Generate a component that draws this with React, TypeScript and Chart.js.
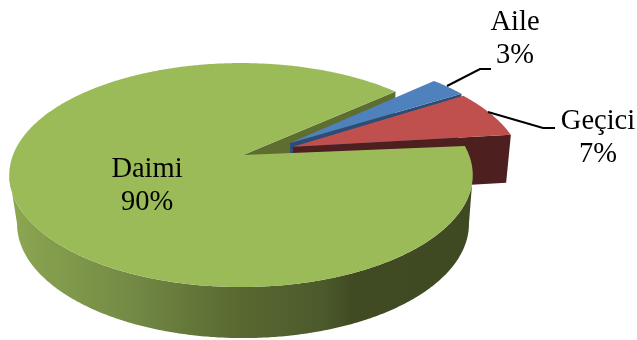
import React, { useEffect, useRef } from "react";
import { Chart, registerables } from "chart.js";

Chart.register(...registerables);

const categories = ["Aile", "Geçici", "Daimi"];
const shares = [3, 7, 90];
const sliceColors = ["#4F81BD", "#C0504D", "#9BBB59"];
const cutFaceColors = ["#2C4D78", "#4E1F1F", "#5D6E30"];

// Tilted-disc projection of the pie's plane, plus the thickness mapping.
const disc = { cx: 241, cy: 155, rx: 228, ry: 108.4, tilt: 0.179 };
// Per-slice pull-out in disc units, with a small angular spin in radians.
const pullOut = [
  { u: 0.219, v: -0.112, spin: -0.018 },
  { u: 0.231, v: -0.078, spin: -0.031 },
  { u: 0.009, v: 0, spin: 0 },
];
const wallGradient: [number, string][] = [
  [0, "#8CA651"],
  [0.25, "#748B45"],
  [0.5, "#586831"],
  [0.68, "#4C5A2C"],
  [0.74, "#404B23"],
  [1, "#3F4A23"],
];
const labelBoxes = [
  { x: 515, y: 30, leader: [[447, 86], [480, 69], [491, 69]] },
  { x: 598, y: 129, leader: [[488, 112], [543, 128], [555, 128]] },
  { x: 147, y: 177, leader: [] as number[][] },
];

type P = [number, number];

const project = (u: number, v: number): P => {
  const w = 1 - disc.tilt * v;
  return [disc.cx + (disc.rx * u) / w, disc.cy + (disc.ry * v) / w];
};
const lower = (p: P): P => [243 + (p[0] - 241) * 0.975, p[1] * 1.02 + 45.3];

const rim = (a0: number, a1: number, ox: number, oy: number): P[] => {
  const steps = Math.max(2, Math.ceil(Math.abs(a1 - a0) / (Math.PI / 360)));
  const pts: P[] = [];
  for (let i = 0; i <= steps; i++) {
    const a = a0 + ((a1 - a0) * i) / steps;
    pts.push(project(ox + Math.cos(a), oy + Math.sin(a)));
  }
  return pts;
};

const fillPoly = (ctx: CanvasRenderingContext2D, pts: P[], fill: string | CanvasGradient) => {
  ctx.beginPath();
  pts.forEach((p, i) => (i ? ctx.lineTo(p[0], p[1]) : ctx.moveTo(p[0], p[1])));
  ctx.closePath();
  ctx.fillStyle = fill;
  ctx.fill();
};

// Replaces the flat arcs with extruded slices, using the angles the doughnut controller computed.
const extrudedPie = {
  id: "extrudedPie",
  beforeDatasetsDraw(chart: any) {
    const ctx: CanvasRenderingContext2D = chart.ctx;
    const arcs = chart.getDatasetMeta(0).data;
    const geo = arcs.map((el: any, i: number) => {
      const { u, v, spin } = pullOut[i];
      return {
        ox: u,
        oy: v,
        start: el.startAngle + spin,
        end: el.endAngle + spin,
        apex: project(u, v),
        color: el.options.backgroundColor,
      };
    });
    ctx.save();

    // Cut face on the clockwise end of the large slice, seen through the gap.
    const big = geo[2];
    const bigEnd = project(Math.cos(big.end), Math.sin(big.end));
    fillPoly(ctx, [big.apex, bigEnd, lower(bigEnd), lower(big.apex)], cutFaceColors[2]);

    // Pulled-out slices: cut face at the end angle, then the top surface.
    [0, 1].forEach((i) => {
      const g = geo[i];
      const end = project(g.ox + Math.cos(g.end), g.oy + Math.sin(g.end));
      fillPoly(ctx, [g.apex, end, lower(end), lower(g.apex)], cutFaceColors[i]);
      fillPoly(ctx, [g.apex, ...rim(g.start, g.end, g.ox, g.oy)], g.color);
    });

    // Front wall of the large slice, between the two silhouette angles.
    const edge = Math.asin(disc.tilt);
    const front = rim(edge, Math.PI - edge, 0, 0);
    const grad = ctx.createLinearGradient(12, 0, 470, 0);
    wallGradient.forEach(([t, c]) => grad.addColorStop(t, c));
    fillPoly(ctx, [...front, ...front.map(lower).reverse()], grad);

    // Top surface of the large slice.
    fillPoly(ctx, [big.apex, ...rim(big.start, big.end, 0, 0)], big.color);

    // Callouts and slice labels.
    ctx.strokeStyle = "#000";
    ctx.lineWidth = 2;
    ctx.fillStyle = "#000";
    ctx.textAlign = "center";
    ctx.textBaseline = "alphabetic";
    ctx.font = '28.5px "Liberation Serif"';
    labelBoxes.forEach((box, i) => {
      if (box.leader.length) {
        ctx.beginPath();
        box.leader.forEach((p, j) => (j ? ctx.lineTo(p[0], p[1]) : ctx.moveTo(p[0], p[1])));
        ctx.stroke();
      }
      ctx.fillText(chart.data.labels[i], box.x, box.y);
      ctx.fillText(`${chart.data.datasets[0].data[i]}%`, box.x, box.y + 33);
    });
    ctx.restore();
    return false;
  },
};

export default function App() {
  const ref = useRef<HTMLCanvasElement>(null);
  useEffect(() => {
    const chart = new Chart(ref.current!, {
      type: "pie",
      data: {
        labels: categories,
        datasets: [{ data: shares, backgroundColor: sliceColors, borderWidth: 0 }],
      },
      options: {
        animation: false,
        responsive: false,
        rotation: 49.2,
        plugins: { legend: { display: false }, tooltip: { enabled: false } },
      },
      plugins: [extrudedPie],
    } as any);
    return () => chart.destroy();
  }, []);
  return (
    <div style={{ position: "absolute", left: 0, top: 0, width: 637, height: 340, background: "#fff" }}>
      <canvas ref={ref} width={637} height={340} style={{ display: "block" }} />
    </div>
  );
}
